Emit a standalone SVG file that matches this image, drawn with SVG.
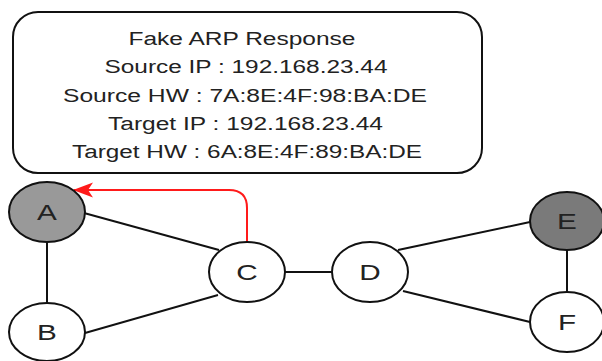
<svg xmlns="http://www.w3.org/2000/svg" width="602" height="361" viewBox="0 0 602 361">
  <style>
    .node { stroke: #111; stroke-width: 2; }
    .white { fill: #ffffff; }
    .gray { fill: #999999; }
    .dark { fill: #7a7a7a; }
    .lbl { font-family: "Liberation Sans", Arial, sans-serif; font-size: 22px; fill: #222; text-anchor: middle; }
    .box { fill: #ffffff; stroke: #111; stroke-width: 2; }
    .btxt { font-family: "Liberation Sans", Arial, sans-serif; font-size: 18px; fill: #222; text-anchor: middle; }
    .edge { stroke: #111; stroke-width: 2; fill: none; }
    .red { stroke: #ff1a1a; stroke-width: 2; fill: none; }
  </style>
  <defs>
    <marker id="arrow" viewBox="0 0 20 16" markerUnits="userSpaceOnUse" markerWidth="20" markerHeight="16" refX="19" refY="8" orient="auto">
      <path d="M20,8 L0,0.5 L5,8 L0,15.5 Z" fill="#ff1a1a"/>
    </marker>
  </defs>
  <rect width="602" height="361" fill="#ffffff"/>

  <g id="message">
    <rect class="box" x="13" y="12" width="469" height="161" rx="25" ry="25"/>
    <text class="btxt" x="242" y="45" textLength="227" lengthAdjust="spacingAndGlyphs">Fake ARP Response</text>
    <text class="btxt" x="246" y="73" textLength="283" lengthAdjust="spacingAndGlyphs">Source IP : 192.168.23.44</text>
    <text class="btxt" x="245" y="102" textLength="364" lengthAdjust="spacingAndGlyphs">Source HW : 7A:8E:4F:98:BA:DE</text>
    <text class="btxt" x="245.5" y="130" textLength="275" lengthAdjust="spacingAndGlyphs">Target IP : 192.168.23.44</text>
    <text class="btxt" x="247" y="158" textLength="350" lengthAdjust="spacingAndGlyphs">Target HW : 6A:8E:4F:89:BA:DE</text>
  </g>

  <g id="connectors">
    <line class="edge" x1="47" y1="242" x2="47" y2="302"/>
    <line class="edge" x1="84" y1="213" x2="219" y2="250"/>
    <line class="edge" x1="85" y1="333" x2="218" y2="295"/>
    <line class="edge" x1="285" y1="272" x2="332" y2="272"/>
    <line class="edge" x1="398" y1="250" x2="530" y2="222"/>
    <line class="edge" x1="403" y1="291" x2="530" y2="322"/>
    <line class="edge" x1="567" y1="251" x2="567" y2="292"/>
    <path class="red" d="M247,242 L247,208 Q247,190 229,190 L74,190" marker-end="url(#arrow)"/>
  </g>

  <g id="node-A">
    <ellipse class="node gray" cx="47" cy="212" rx="38" ry="30"/>
    <text class="lbl" transform="translate(47,220) scale(1.35,1)">A</text>
  </g>
  <g id="node-B">
    <ellipse class="node white" cx="47" cy="332" rx="38" ry="29"/>
    <text class="lbl" transform="translate(47,340) scale(1.35,1)">B</text>
  </g>
  <g id="node-C">
    <ellipse class="node white" cx="247" cy="272" rx="38" ry="30"/>
    <text class="lbl" transform="translate(247,280) scale(1.35,1)">C</text>
  </g>
  <g id="node-D">
    <ellipse class="node white" cx="370" cy="272" rx="38" ry="30"/>
    <text class="lbl" transform="translate(370,280) scale(1.35,1)">D</text>
  </g>
  <g id="node-E">
    <ellipse class="node dark" cx="567" cy="221" rx="37" ry="29"/>
    <text class="lbl" transform="translate(567,229) scale(1.35,1)">E</text>
  </g>
  <g id="node-F">
    <ellipse class="node white" cx="567" cy="322" rx="37" ry="30"/>
    <text class="lbl" transform="translate(567,330) scale(1.35,1)">F</text>
  </g>
</svg>
